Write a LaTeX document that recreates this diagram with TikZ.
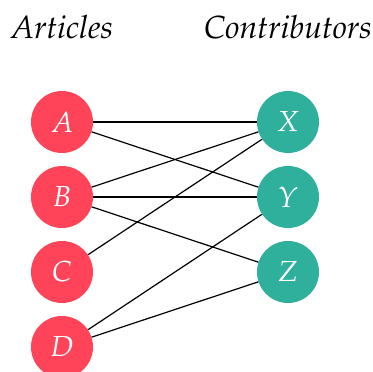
\documentclass[tikz,border=0pt]{standalone}
\usepackage[T1]{fontenc}
\usepackage{mathpazo}
\usepackage{tikz}
\usetikzlibrary{positioning}
\definecolor{articlered}{RGB}{255,67,89}
\definecolor{contribteal}{RGB}{46,176,157}
\tikzset{article/.style = {circle, fill=articlered, text=white, minimum size=62pt, inner sep=0pt,
                           font=\fontsize{29}{32}\selectfont},
         contrib/.style = {circle, fill=contribteal, text=white, minimum size=62pt, inner sep=0pt,
                           font=\fontsize{29}{32}\selectfont},
         heading/.style = {font=\fontsize{32}{36}\selectfont\itshape},
         edge/.style = {line width = 1.2pt}}

\begin{document}
\begin{tikzpicture}[x=1pt, y=1pt]
      \useasboundingbox (0, 0) rectangle (373, -372);
      \node [heading] (arthead) at (62, -27) {Articles};
      \node [heading] (conhead) at (288, -27) {Contributors};
      \node [article] (A) at (62, -122) {$A$};
      \node [article] (B) at (62, -197) {$B$};
      \node [article] (C) at (62, -272) {$C$};
      \node [article] (D) at (62, -347) {$D$};
      \node [contrib] (X) at (288, -122) {$X$};
      \node [contrib] (Y) at (288, -197) {$Y$};
      \node [contrib] (Z) at (288, -272) {$Z$};
      \draw [edge] (A) -- (X);
      \draw [edge] (A) -- (Y);
      \draw [edge] (B) -- (X);
      \draw [edge] (B) -- (Y);
      \draw [edge] (B) -- (Z);
      \draw [edge] (C) -- (X);
      \draw [edge] (D) -- (Y);
      \draw [edge] (D) -- (Z);
    \end{tikzpicture}
\end{document}
